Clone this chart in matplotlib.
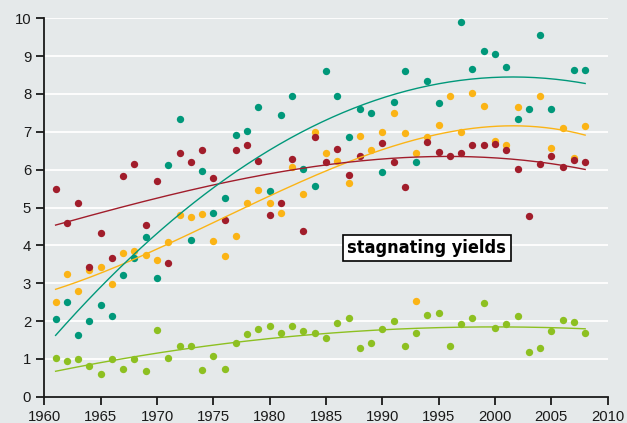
import numpy as np
import matplotlib
matplotlib.use("Agg")
import matplotlib.pyplot as plt

years = np.arange(1961, 2009)

teal = [2.06, 2.49, 1.63, 2.00, 2.43, 2.13, 3.21, 3.67, 4.23, 3.13,
        6.12, 7.33, 4.13, 5.96, 4.85, 5.26, 6.91, 7.01, 7.65, 5.44,
        7.44, 7.94, 6.01, 5.57, 8.62, 7.94, 6.86, 7.61, 7.50, 5.95,
        7.80, 8.62, 6.21, 8.35, 7.76, np.nan, 9.89, 8.65, 9.14, 9.05,
        8.71, 7.34, 7.61, 9.56, 7.61, np.nan, 8.63, 8.63]

red = [5.48, 4.58, 5.11, 3.43, 4.32, 3.66, 5.82, 6.14, 4.53, 5.71,
       3.53, 6.44, 6.19, 6.51, 5.77, 4.68, 6.51, 6.65, 6.24, 4.79,
       5.12, 6.28, 4.39, 6.86, 6.19, 6.54, 5.87, 6.36, np.nan, 6.70,
       6.21, 5.53, np.nan, 6.72, 6.48, 6.37, 6.45, 6.66, 6.66, 6.69,
       6.52, 6.01, 4.78, 6.14, 6.37, 6.08, 6.26, 6.21]

orange = [2.50, 3.24, 2.80, 3.34, 3.43, 2.98, 3.81, 3.86, 3.75, 3.61,
          4.08, 4.81, 4.75, 4.82, 4.11, 3.72, 4.24, 5.11, 5.47, 5.13,
          4.85, 6.08, 5.37, 7.00, 6.43, 6.22, 5.65, 6.89, 6.53, 7.00,
          7.51, 6.96, 6.45, 6.87, 7.17, 7.96, 7.00, 8.03, 7.68, 6.77,
          6.66, 7.65, np.nan, 7.95, 6.56, 7.09, 6.32, 7.15]
# second orange reading in 1993
orange_extra_year = [1993]
orange_extra = [2.54]

green = [1.01, 0.94, 1.00, 0.80, 0.60, 1.00, 0.74, 1.00, 0.69, 1.75,
         1.01, 1.33, 1.35, 0.70, 1.07, 0.74, 1.43, 1.66, 1.79, 1.87,
         1.69, 1.87, 1.73, 1.69, 1.54, 1.95, 2.09, 1.29, 1.42, 1.79,
         2.01, 1.35, 1.69, 2.16, 2.21, 1.35, 1.91, 2.07, 2.48, 1.82,
         1.93, 2.14, 1.19, 1.28, 1.74, 2.02, 1.97, 1.69]

BG = "#e5e9ea"
TEAL = "#00987a"
RED = "#a11d2b"
ORANGE = "#fbb416"
GREEN = "#8dc021"

fig = plt.figure(figsize=(6.27, 4.23), dpi=100, facecolor=BG)
ax = fig.add_axes([0.0707, 0.0622, 0.8985, 0.8945], facecolor=BG)


def trend(xs, ys, deg):
    xs = np.asarray(xs, float)
    ys = np.asarray(ys, float)
    ok = ~np.isnan(ys)
    coef = np.polyfit(xs[ok] - 1961, ys[ok], deg)
    xx = np.linspace(1961, 2008, 200)
    return xx, np.polyval(coef, xx - 1961)


series = [
    (years, orange, ORANGE, 3),
    (years, red, RED, 3),
    (years, teal, TEAL, 2),
    (years, green, GREEN, 2),
]

for z, (xs, ys, col, deg) in enumerate(series):
    ax.scatter(xs, ys, s=28, color=col, linewidths=0, zorder=3 + z)
    if col == ORANGE:
        ax.scatter(orange_extra_year, orange_extra, s=28, color=col, linewidths=0, zorder=3 + z)
        fx, fy = trend(np.r_[xs, orange_extra_year], np.r_[ys, orange_extra], deg)
    else:
        fx, fy = trend(xs, ys, deg)
    ax.plot(fx, fy, color=col, lw=1.0, zorder=8)

ax.set_xlim(1960, 2010)
ax.set_ylim(0, 10)
ax.set_xticks(np.arange(1960, 2011, 5))
ax.set_yticks(np.arange(0, 11, 1))
ax.yaxis.grid(True, color="white", lw=1.3)
ax.set_axisbelow(True)
for side in ("top", "right"):
    ax.spines[side].set_visible(False)
for side in ("left", "bottom"):
    ax.spines[side].set_linewidth(1.3)
    ax.spines[side].set_color("#1a1a1a")
ax.tick_params(axis="both", length=5.5, width=1.3, color="#1a1a1a",
               labelsize=10.7, labelcolor="#1a1a1a", pad=4)
for lab in ax.get_xticklabels() + ax.get_yticklabels():
    lab.set_fontfamily("Liberation Sans")

ax.text(1993.94, 3.93, "stagnating yields", ha="center", va="center",
        fontsize=13, fontweight="bold", family="DejaVu Sans", fontstretch="condensed",
        color="black", zorder=10,
        bbox=dict(boxstyle="square,pad=0.24", facecolor="white", edgecolor="black", lw=1.2))

fig.savefig("out.png", dpi=100, facecolor=BG)
